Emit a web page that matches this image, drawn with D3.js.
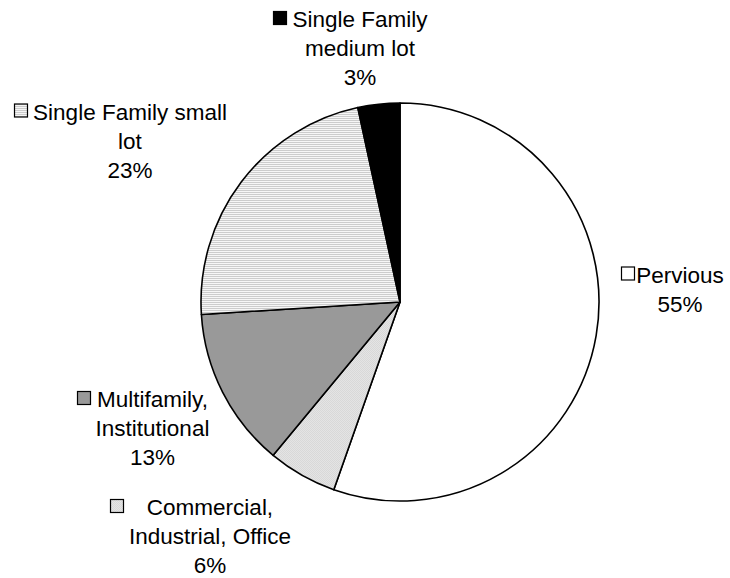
<!DOCTYPE html>
<html lang="en">
<head>
    <meta charset="UTF-8">
    <title>Land use pie</title>
    <script src="https://d3js.org/d3.v7.min.js"></script>
    <style>
        body { margin: 0; background: #fff; }
        svg { display: block; }
        text { font-family: "Liberation Sans", Arial, sans-serif; font-size: 22.5px; fill: #000; }
    </style>
</head>
<body>
<svg width="730" height="578" viewBox="0 0 730 578"></svg>
<script>
    // data (clockwise from 12 o'clock)
    const categories = ["Pervious", "Commercial, Industrial, Office", "Multifamily, Institutional",
                        "Single Family small lot", "Single Family medium lot"];
    const shares = [55.4, 5.6, 13.0, 22.6, 3.4];
    const labelLines = [["Pervious"], ["Commercial,", "Industrial, Office"], ["Multifamily,", "Institutional"],
                        ["Single Family small", "lot"], ["Single Family", "medium lot"]];

    // layout: label centre x, first baseline, legend key x
    const labelPos = [
        {cx: 680, y: 282.5, kx: 621},
        {cx: 210, y: 515, kx: 110},
        {cx: 152.5, y: 407, kx: 77},
        {cx: 130, y: 119.5, kx: 14},
        {cx: 360, y: 27, kx: 273}
    ];
    const lineStep = 29;

    const svg = d3.select('svg');
    const defs = svg.append('defs');

    // horizontal stripes for small lot
    const stripes = defs.append('pattern').attr('id', 'stripes')
        .attr('patternUnits', 'userSpaceOnUse').attr('width', 4).attr('height', 2);
    stripes.append('rect').attr('width', 4).attr('height', 2).attr('fill', '#f6f6f6');
    stripes.append('rect').attr('width', 4).attr('height', 1).attr('fill', '#cccccc');

    // fine checker for commercial
    const checker = defs.append('pattern').attr('id', 'checker')
        .attr('patternUnits', 'userSpaceOnUse').attr('width', 2).attr('height', 2);
    checker.append('rect').attr('width', 2).attr('height', 2).attr('fill', '#e4e4e4');
    checker.append('rect').attr('width', 1).attr('height', 1).attr('fill', '#d8d8d8');
    checker.append('rect').attr('x', 1).attr('y', 1).attr('width', 1).attr('height', 1).attr('fill', '#d8d8d8');

    const fills = ['#ffffff', 'url(#checker)', '#999999', 'url(#stripes)', '#000000'];

    const cx = 400, cy = 302, r = 199;
    const pie = d3.pie().sort(null).value(d => d)(shares);
    const arc = d3.arc().innerRadius(0).outerRadius(r);
    const total = d3.sum(shares);
    const pct = d3.format('.0%');

    const g = svg.append('g').attr('transform', `translate(${cx},${cy})`);
    g.selectAll('path')
        .data(pie).enter().append('path')
        .attr('d', arc)
        .attr('fill', (d, i) => fills[i])
        .attr('stroke', '#000')
        .attr('stroke-width', 1.6)
        .attr('stroke-linejoin', 'round');

    // labels
    const lab = svg.selectAll('g.lab')
        .data(categories).enter().append('g').attr('class', 'lab');

    lab.append('rect')
        .attr('x', (d, i) => labelPos[i].kx + 0.5)
        .attr('y', (d, i) => labelPos[i].y - 15.5)
        .attr('width', 13).attr('height', 13)
        .attr('fill', (d, i) => fills[i])
        .attr('stroke', '#000').attr('stroke-width', 1.2);

    lab.each(function (d, i) {
        const lines = labelLines[i].concat([pct(shares[i] / total)]);
        d3.select(this).selectAll('text')
            .data(lines).enter().append('text')
            .attr('x', labelPos[i].cx)
            .attr('y', (t, j) => labelPos[i].y + j * lineStep)
            .attr('text-anchor', 'middle')
            .text(t => t);
    });
</script>
</body>
</html>
